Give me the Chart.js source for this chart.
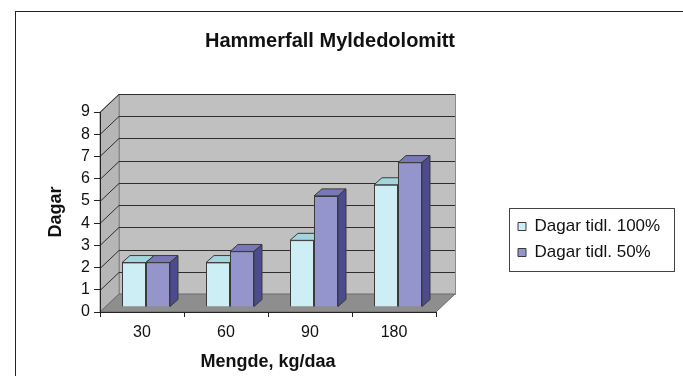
<!DOCTYPE html>
<html>
<head>
<meta charset="utf-8">
<script src="https://cdn.jsdelivr.net/npm/chart.js@4.4.1/dist/chart.umd.min.js"></script>
<style>
body { margin: 0; background: #fff; overflow: hidden; }
#frame { position: absolute; left: 15px; top: 11px; width: 720px; height: 420px; border: 1px solid #222; }
#chart { position: absolute; left: 0; top: 0; }
</style>
</head>
<body>
<div id="frame"></div>
<canvas id="chart" width="683" height="376"></canvas>
<script>
// data
const categories = ["30", "60", "90", "180"];
const dagar100 = [2, 2, 3, 5.5];
const dagar50 = [2, 2.5, 5, 6.5];
const seriesNames = ["Dagar tidl. 100%", "Dagar tidl. 50%"];
const yMax = 9;

// 3d look
const WALL = { x: 19, y: -18 };
const BAR_D = { x: 8, y: -7 };
const BAR_SHIFT = { x: 4, y: -5 };
const faces = [
    { top: "#a3d6dc", side: "#7fb0b8" },
    { top: "#7878b8", side: "#4b4b8e" }
];

Chart.defaults.font.family = "'Liberation Sans', Arial, sans-serif";
Chart.defaults.color = "#111";

// walls, floor and gridlines behind everything
const walls = {
    id: "walls",
    beforeDraw(chart) {
        const ctx = chart.ctx, a = chart.chartArea, ys = chart.scales.y;
        const dx = WALL.x, dy = WALL.y;
        ctx.save();
        ctx.lineWidth = 1;

        // back wall
        ctx.fillStyle = "#c0c0c0";
        ctx.strokeStyle = "#8a8a8a";
        ctx.fillRect(a.left + dx, a.top + dy, a.right - a.left, a.bottom - a.top);
        ctx.strokeRect(a.left + dx + 0.5, a.top + dy + 0.5, a.right - a.left, a.bottom - a.top);

        // left wall
        ctx.fillStyle = "#b6b6b6";
        ctx.beginPath();
        ctx.moveTo(a.left, a.top);
        ctx.lineTo(a.left + dx, a.top + dy);
        ctx.lineTo(a.left + dx, a.bottom + dy);
        ctx.lineTo(a.left, a.bottom);
        ctx.closePath();
        ctx.fill();
        ctx.stroke();

        // floor
        ctx.fillStyle = "#8e8e8e";
        ctx.beginPath();
        ctx.moveTo(a.left, a.bottom);
        ctx.lineTo(a.right, a.bottom);
        ctx.lineTo(a.right + dx, a.bottom + dy);
        ctx.lineTo(a.left + dx, a.bottom + dy);
        ctx.closePath();
        ctx.fill();
        ctx.strokeStyle = "#6a6a6a";
        ctx.stroke();

        // gridlines
        ctx.strokeStyle = "#2e2e2e";
        for (let v = 1; v <= yMax; v++) {
            const py = Math.round(ys.getPixelForValue(v)) + 0.5;
            ctx.beginPath();
            ctx.moveTo(a.left, py);
            ctx.lineTo(a.left + dx, py + dy);
            ctx.lineTo(a.right + dx, py + dy);
            ctx.stroke();
        }
        ctx.restore();
    }
};

// side and top faces of the bars
const bars3d = {
    id: "bars3d",
    beforeDatasetsDraw(chart) {
        chart.ctx.save();
        chart.ctx.translate(BAR_SHIFT.x, BAR_SHIFT.y);
    },
    afterDatasetsDraw(chart) {
        const ctx = chart.ctx;
        const metas = chart.data.datasets.map((d, i) => chart.getDatasetMeta(i));
        categories.forEach((c, i) => {
            metas.forEach((meta, k) => {
                const el = meta.data[i];
                const L = el.x - el.width / 2, R = el.x + el.width / 2, T = el.y, B = el.base;
                ctx.save();
                ctx.beginPath();
                ctx.rect(-50, -50, chart.width + 100, chart.height + 100);
                metas.slice(k + 1).forEach(m => {
                    const e = m.data[i];
                    ctx.rect(e.x - e.width / 2, e.y, e.width, e.base - e.y);
                });
                ctx.clip("evenodd");
                ctx.lineWidth = 1;
                ctx.strokeStyle = "#3a3a3a";
                // top
                ctx.fillStyle = faces[k].top;
                ctx.beginPath();
                ctx.moveTo(L, T);
                ctx.lineTo(R, T);
                ctx.lineTo(R + BAR_D.x, T + BAR_D.y);
                ctx.lineTo(L + BAR_D.x, T + BAR_D.y);
                ctx.closePath();
                ctx.fill();
                ctx.stroke();
                // side
                ctx.fillStyle = faces[k].side;
                ctx.beginPath();
                ctx.moveTo(R, T);
                ctx.lineTo(R + BAR_D.x, T + BAR_D.y);
                ctx.lineTo(R + BAR_D.x, B + BAR_D.y);
                ctx.lineTo(R, B);
                ctx.closePath();
                ctx.fill();
                ctx.stroke();
                ctx.restore();
            });
        });
        ctx.restore();
    }
};

// legend placed at the right, with a box round it
const legendBox = {
    id: "legendBox",
    afterLayout(chart) {
        const lg = chart.legend;
        lg.left = 509; lg.top = 208; lg.right = 674; lg.bottom = 271;
        lg.width = lg.right - lg.left;
        lg.height = lg.bottom - lg.top;
    },
    afterDraw(chart) {
        const lg = chart.legend, ctx = chart.ctx;
        ctx.save();
        ctx.strokeStyle = "#444";
        ctx.lineWidth = 1;
        ctx.strokeRect(lg.left + 0.5, lg.top + 0.5, lg.width, lg.height);
        ctx.restore();
    }
};

new Chart(document.getElementById("chart"), {
    type: "bar",
    data: {
        labels: categories,
        datasets: [{
            label: seriesNames[0],
            data: dagar100,
            backgroundColor: "#cdeef5",
            borderColor: "#3a3a3a",
            borderWidth: 1
        }, {
            label: seriesNames[1],
            data: dagar50,
            backgroundColor: "#9595cd",
            borderColor: "#3a3a3a",
            borderWidth: 1
        }]
    },
    options: {
        responsive: false,
        animation: false,
        layout: { padding: { left: 40, right: 63, top: 19, bottom: 0 } },
        datasets: { bar: { barPercentage: 1, categoryPercentage: 48 / 84 } },
        plugins: {
            tooltip: { enabled: false },
            title: {
                display: true,
                text: "Hammerfall Myldedolomitt",
                font: { size: 20, weight: "bold" },
                color: "#111",
                padding: { top: 10, bottom: 59 }
            },
            legend: {
                position: "chartArea",
                align: "center",
                labels: {
                    boxWidth: 8,
                    boxHeight: 8,
                    padding: 9,
                    font: { size: 17 },
                    color: "#111"
                }
            }
        },
        scales: {
            x: {
                grid: { display: true, drawOnChartArea: false, drawTicks: true, tickLength: 5, color: "#222", offset: true },
                border: { display: true, color: "#222" },
                ticks: { font: { size: 16 }, padding: 6, color: "#111" },
                title: { display: true, text: "Mengde, kg/daa", font: { size: 18, weight: "bold" }, padding: { top: 0, bottom: 3 }, color: "#111" },
                afterFit(s) { s.height = 64; }
            },
            y: {
                min: 0,
                max: yMax,
                ticks: { stepSize: 1, font: { size: 16 }, padding: 4, color: "#111" },
                grid: { display: true, drawOnChartArea: false, drawTicks: true, tickLength: 6, color: "#222" },
                border: { display: true, color: "#222" },
                title: { display: true, text: "Dagar", font: { size: 18, weight: "bold" }, padding: { top: 5, bottom: 0 }, color: "#111" },
                afterFit(s) { s.width = 60; }
            },
            yR: {
                type: "linear",
                position: "right",
                display: true,
                grid: { display: false },
                border: { display: false },
                ticks: { display: false },
                afterFit(s) { s.width = 184; }
            }
        }
    },
    plugins: [walls, bars3d, legendBox]
});
</script>
</body>
</html>
